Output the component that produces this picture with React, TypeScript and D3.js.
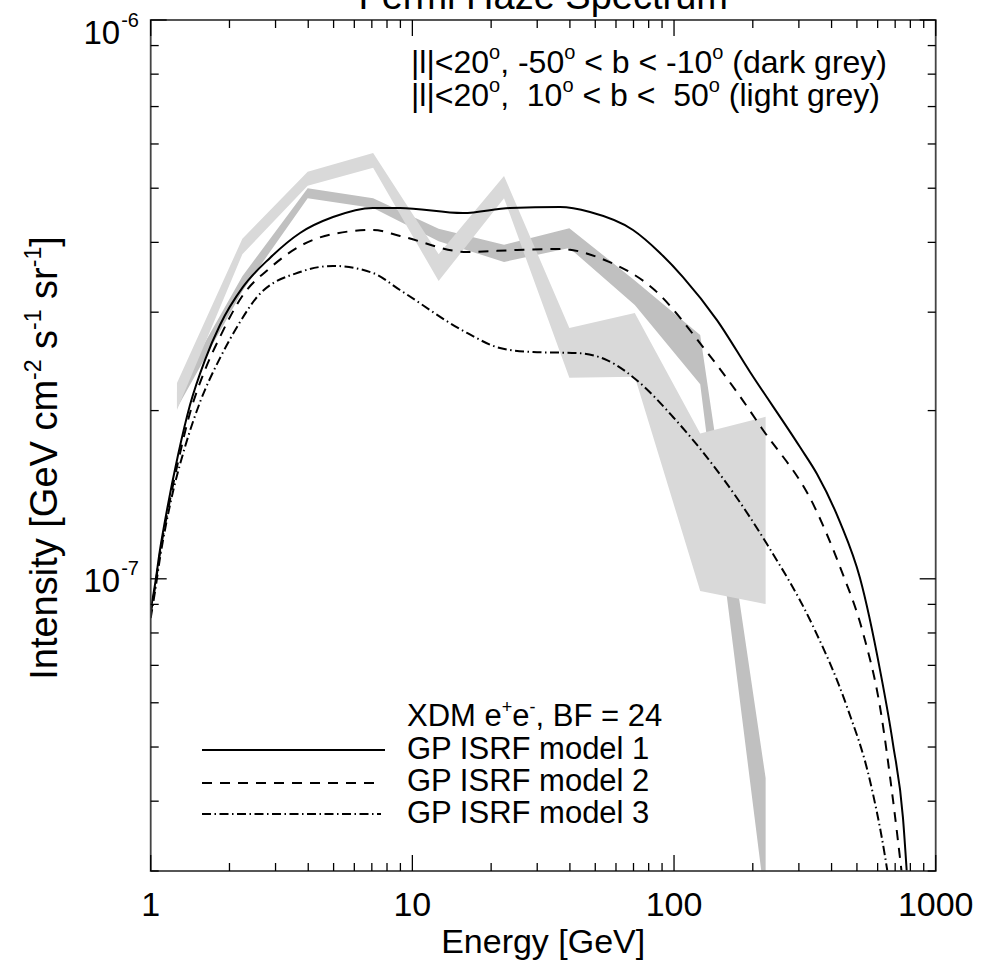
import React from 'react';
import * as d3 from 'd3';

// ---- data ----
const bandEnergy = [1.26, 2.24, 3.98, 7.08, 12.6, 22.4, 39.8, 70.8, 125.9, 223.9];
const darkHigh = [2.16e-7, 3.48e-7, 5.0e-7, 4.8e-7, 4.23e-7, 3.96e-7, 4.24e-7, 3.42e-7, 2.73e-7, 4.4e-8];
const darkLow = [2.02e-7, 3.27e-7, 4.8e-7, 4.61e-7, 4.02e-7, 3.69e-7, 3.91e-7, 3.09e-7, 2.23e-7, 2.6e-8];
const lightHigh = [2.24e-7, 4.06e-7, 5.35e-7, 5.78e-7, 3.81e-7, 5.26e-7, 2.81e-7, 2.99e-7, 1.82e-7, 1.95e-7];
const lightLow = [2.005e-7, 3.81e-7, 5.05e-7, 5.44e-7, 3.41e-7, 4.8e-7, 2.29e-7, 2.3e-7, 9.51e-8, 9.01e-8];

const model1Energy = [1.0, 1.038, 1.085, 1.154, 1.272, 1.413, 1.612, 1.84, 2.253, 2.857, 3.721, 4.974, 7.07, 8.97, 15.61, 23.61, 36.67, 47.74, 69.69, 88.4, 108.2, 145.9, 195.2, 302.9, 351.9, 430.8, 513.6, 612.5, 686.8, 749.9, 776.7];
const model1Intensity = [8.79e-8, 9.75e-8, 1.126e-7, 1.328e-7, 1.665e-7, 2.046e-7, 2.463e-7, 2.846e-7, 3.329e-7, 3.752e-7, 4.158e-7, 4.44e-7, 4.61e-7, 4.61e-7, 4.515e-7, 4.61e-7, 4.627e-7, 4.533e-7, 4.21e-7, 3.83e-7, 3.467e-7, 2.904e-7, 2.345e-7, 1.721e-7, 1.54e-7, 1.263e-7, 1.003e-7, 6.87e-8, 5.06e-8, 3.73e-8, 2.95e-8];

const model2Energy = [1.0, 1.038, 1.085, 1.154, 1.272, 1.413, 1.612, 1.84, 2.253, 2.857, 3.721, 4.974, 7.07, 8.97, 16.18, 25.12, 36.67, 54.3, 84.3, 130.9, 175.0, 216.1, 344.5, 430.8, 527.5, 612.5, 686.8, 743.3];
const model2Intensity = [8.65e-8, 9.63e-8, 1.112e-7, 1.3e-7, 1.618e-7, 1.98e-7, 2.364e-7, 2.71e-7, 3.22e-7, 3.6e-7, 3.94e-7, 4.14e-7, 4.21e-7, 4.108e-7, 3.845e-7, 3.877e-7, 3.893e-7, 3.72e-7, 3.287e-7, 2.577e-7, 2.15e-7, 1.862e-7, 1.344e-7, 1.05e-7, 8.0e-8, 5.9e-8, 4.02e-8, 2.95e-8];

const model3Energy = [1.0, 1.038, 1.085, 1.185, 1.352, 1.543, 1.84, 2.194, 2.548, 3.721, 4.974, 7.07, 8.97, 16.18, 21.62, 28.91, 42.6, 55.4, 74.1, 99.1, 127.9, 226.5, 339.6, 458.1, 560.9, 640.0, 657.1];
const model3Intensity = [8.51e-8, 9.47e-8, 1.089e-7, 1.355e-7, 1.721e-7, 2.07e-7, 2.483e-7, 2.88e-7, 3.193e-7, 3.54e-7, 3.63e-7, 3.526e-7, 3.287e-7, 2.754e-7, 2.588e-7, 2.546e-7, 2.535e-7, 2.463e-7, 2.241e-7, 1.948e-7, 1.693e-7, 1.154e-7, 8.23e-8, 5.9e-8, 4.35e-8, 3.19e-8, 2.95e-8];

const xMajorTicks = [1, 10, 100, 1000];
const xTickLabels = ['1', '10', '100', '1000'];
const xMinorTicks = [2, 3, 4, 5, 6, 7, 8, 9, 20, 30, 40, 50, 60, 70, 80, 90, 200, 300, 400, 500, 600, 700, 800, 900];
const yMajorTicks = [1e-7, 1e-6];
const yTickExponents = ['-7', '-6'];
const yMinorTicks = [3e-8, 4e-8, 5e-8, 6e-8, 7e-8, 8e-8, 9e-8, 2e-7, 3e-7, 4e-7, 5e-7, 6e-7, 7e-7, 8e-7, 9e-7];

const legendLabels = ['GP ISRF model 1', 'GP ISRF model 2', 'GP ISRF model 3'];

// ---- layout ----
const W = 983;
const H = 966;
const L = 150.7;
const R = 935.7;
const T = 20;
const B = 871;
const FONT = '"Liberation Sans", Arial, Helvetica, sans-serif';

export default function App() {
  const x = d3.scaleLog().domain([1, 1000]).range([L, R]);
  const y = d3.scaleLog().domain([3e-8, 1e-6]).range([B, T]);

  const band = (low: number[], high: number[]) =>
    d3
      .area<number>()
      .x((_, i) => x(bandEnergy[i]))
      .y0((_, i) => y(low[i]))
      .y1((_, i) => y(high[i]))
      .curve(d3.curveLinear)(bandEnergy.map((_, i) => i)) || '';

  const line = (es: number[], is: number[]) =>
    d3
      .line<number>()
      .x((i) => x(es[i]))
      .y((i) => y(is[i]))
      .curve(d3.curveMonotoneX)(es.map((_, i) => i)) || '';

  const models = [
    { e: model1Energy, v: model1Intensity, dash: undefined as string | undefined },
    { e: model2Energy, v: model2Intensity, dash: '10,8' },
    { e: model3Energy, v: model3Intensity, dash: '9,3.5,1.5,3.5' },
  ];

  const legendLineY = [750, 783, 814];
  const legendLineEnd = [385, 376, 381];
  const legendTextY = [759, 791, 823];

  return (
    <svg
      width={W}
      height={H}
      viewBox={`0 0 ${W} ${H}`}
      style={{ position: 'absolute', left: 0, top: 0, background: '#fff', fontFamily: FONT }}
    >
      <defs>
        <clipPath id="plotClip">
          <rect x={L} y={T} width={R - L} height={B - T} />
        </clipPath>
      </defs>
      <rect x={0} y={0} width={W} height={H} fill="#fff" />

      {/* title (cut at the top, as in the reference) */}
      <text x={(L + R) / 2} y={9} textAnchor="middle" fontSize={38} fill="#000">
        Fermi Haze Spectrum
      </text>

      <g clipPath="url(#plotClip)">
        <path d={band(darkLow, darkHigh)} fill="#c0c0c0" stroke="none" />
        <path d={band(lightLow, lightHigh)} fill="#d9d9d9" stroke="none" />
        {models.map((m, k) => (
          <path
            key={k}
            d={line(m.e, m.v)}
            fill="none"
            stroke="#000"
            strokeWidth={2}
            strokeDasharray={m.dash}
          />
        ))}
      </g>

      {/* frame */}
      <rect x={L} y={T} width={R - L} height={B - T} fill="none" stroke="#444" strokeWidth={1.8} />

      {/* x ticks */}
      {xMajorTicks.map((v) => (
        <g key={'xM' + v}>
          <line x1={x(v)} x2={x(v)} y1={B} y2={B - 16} stroke="#000" strokeWidth={1.3} />
          <line x1={x(v)} x2={x(v)} y1={T} y2={T + 16} stroke="#000" strokeWidth={1.3} />
        </g>
      ))}
      {xMinorTicks.map((v) => (
        <g key={'xm' + v}>
          <line x1={x(v)} x2={x(v)} y1={B} y2={B - 8} stroke="#000" strokeWidth={1.3} />
          <line x1={x(v)} x2={x(v)} y1={T} y2={T + 8} stroke="#000" strokeWidth={1.3} />
        </g>
      ))}
      {/* y ticks */}
      {yMajorTicks.map((v) => (
        <g key={'yM' + v}>
          <line x1={L} x2={L + 16} y1={y(v)} y2={y(v)} stroke="#000" strokeWidth={1.3} />
          <line x1={R} x2={R - 16} y1={y(v)} y2={y(v)} stroke="#000" strokeWidth={1.3} />
        </g>
      ))}
      {yMinorTicks.map((v) => (
        <g key={'ym' + v}>
          <line x1={L} x2={L + 8} y1={y(v)} y2={y(v)} stroke="#000" strokeWidth={1.3} />
          <line x1={R} x2={R - 8} y1={y(v)} y2={y(v)} stroke="#000" strokeWidth={1.3} />
        </g>
      ))}

      {/* x tick labels */}
      {xMajorTicks.map((v, i) => (
        <text key={'xl' + v} x={x(v)} y={916} textAnchor="middle" fontSize={34} fill="#000">
          {xTickLabels[i]}
        </text>
      ))}
      {/* y tick labels */}
      {yMajorTicks.map((v, i) => (
        <text
          key={'yl' + v}
          x={139}
          y={i === 1 ? 44 : y(v) + 13}
          textAnchor="end"
          fontSize={33}
          fill="#000"
        >
          10
          <tspan fontSize={20} dy={-17} dx={1}>
            {yTickExponents[i]}
          </tspan>
        </text>
      ))}

      {/* axis titles */}
      <text x={(L + R) / 2} y={953} textAnchor="middle" fontSize={34} fill="#000">
        Energy [GeV]
      </text>
      <text
        transform={`translate(57, 458) rotate(-90)`}
        textAnchor="middle"
        fontSize={38}
        fill="#000"
      >
        Intensity [GeV cm
        <tspan fontSize={23} dy={-16}>-2</tspan>
        <tspan dy={16}> s</tspan>
        <tspan fontSize={23} dy={-16}>-1</tspan>
        <tspan dy={16}> sr</tspan>
        <tspan fontSize={23} dy={-16}>-1</tspan>
        <tspan dy={16}>]</tspan>
      </text>

      {/* region legend */}
      <text x={411} y={73} fontSize={32} fill="#000" style={{ whiteSpace: 'pre' }}>
        |l|&lt;20<tspan fontSize={20} dy={-14}>o</tspan>
        <tspan dy={14}>, -50</tspan>
        <tspan fontSize={20} dy={-14}>o</tspan>
        <tspan dy={14}> &lt; b &lt; -10</tspan>
        <tspan fontSize={20} dy={-14}>o</tspan>
        <tspan dy={14}> (dark grey)</tspan>
      </text>
      <text x={411} y={106} fontSize={32} fill="#000" style={{ whiteSpace: 'pre' }}>
        |l|&lt;20<tspan fontSize={20} dy={-14}>o</tspan>
        <tspan dy={14}>,  10</tspan>
        <tspan fontSize={20} dy={-14}>o</tspan>
        <tspan dy={14}> &lt; b &lt;  50</tspan>
        <tspan fontSize={20} dy={-14}>o</tspan>
        <tspan dy={14}> (light grey)</tspan>
      </text>

      {/* model legend */}
      <text x={407} y={726} fontSize={31} fill="#000">
        XDM e<tspan fontSize={18} dy={-13}>+</tspan>
        <tspan dy={13}>e</tspan>
        <tspan fontSize={18} dy={-13}>-</tspan>
        <tspan dy={13}>, BF = 24</tspan>
      </text>
      {models.map((m, k) => (
        <g key={'lg' + k}>
          <line
            x1={202}
            x2={legendLineEnd[k]}
            y1={legendLineY[k]}
            y2={legendLineY[k]}
            stroke="#000"
            strokeWidth={2}
            strokeDasharray={m.dash}
          />
          <text x={407} y={legendTextY[k]} fontSize={31} fill="#000">
            {legendLabels[k]}
          </text>
        </g>
      ))}
    </svg>
  );
}
